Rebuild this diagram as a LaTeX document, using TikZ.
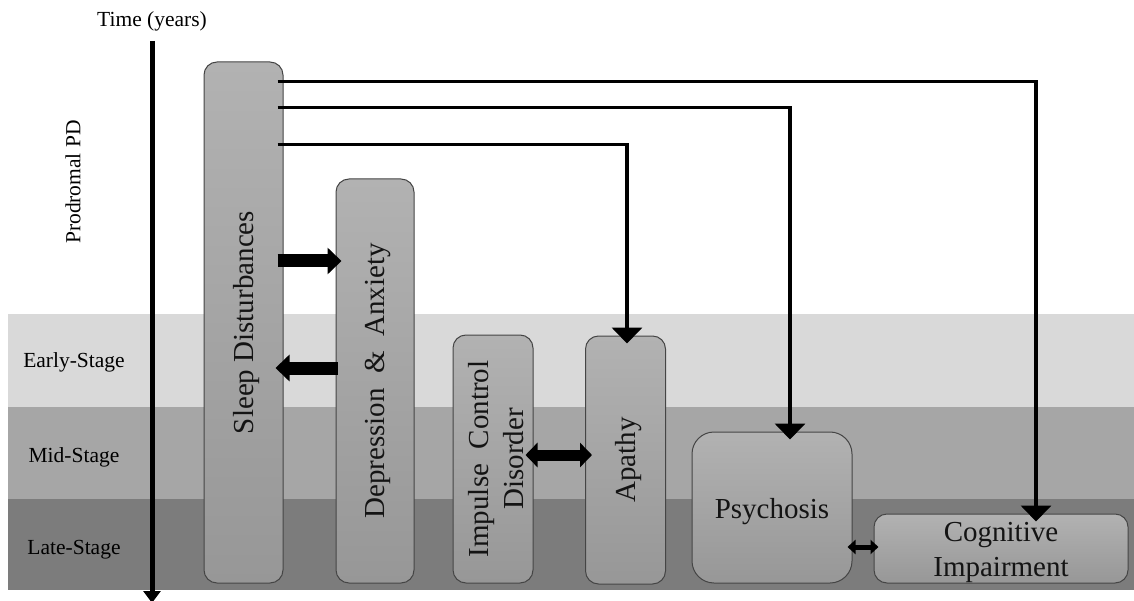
\documentclass[tikz,border=0pt]{standalone}
\usepackage{fontspec}
\setmainfont{Liberation Serif}
\usetikzlibrary{arrows.meta}

\definecolor{earlyband}{HTML}{D9D9D9}
\definecolor{midband}{HTML}{A6A6A6}
\definecolor{lateband}{HTML}{7C7C7C}
\definecolor{boxtop}{HTML}{B2B2B2}
\definecolor{boxbot}{HTML}{979797}
\definecolor{boxline}{HTML}{454545}

\tikzset{
  phase/.style={draw=boxline, line width=1pt, rounded corners=13pt,
    top color=boxtop, bottom color=boxbot, inner sep=0pt},
  sym/.style={font=\fontsize{29}{35}\selectfont, text=black!92, align=center},
  stagelbl/.style={font=\fontsize{21.5}{26}\selectfont},
  link/.style={line width=3.8pt, -{Triangle[width=30pt,length=16pt]}, shorten >=-8pt},
  fat/.style={line width=13pt, -{Triangle[width=26pt,length=14pt]}},
  fatboth/.style={line width=11pt, {Triangle[width=24pt,length=12pt]}-{Triangle[width=24pt,length=12pt]}},
  thinboth/.style={line width=5pt, {Triangle[width=14pt,length=8pt]}-{Triangle[width=14pt,length=8pt]}}
}

\begin{document}
\begin{tikzpicture}[x=1pt,y=-1pt]
  \useasboundingbox (0,0) rectangle (1134,601);
  % stages
  \fill[earlyband] (8,314) rectangle (1134,407);
  \fill[midband] (8,407) rectangle (1134,499);
  \fill[lateband] (8,499) rectangle (1134,590);
  \node[stagelbl] (early) at (74,362) {Early-Stage};
  \node[stagelbl] (mid) at (74,457) {Mid-Stage};
  \node[stagelbl] (late) at (74,550) {Late-Stage};
  \node[stagelbl, rotate=90] (prod) at (73,182) {Prodromal PD};

  % time axis
  \node[stagelbl] (time) at (152,21) {Time (years)};
  \coordinate (t0) at (152,41);
  \coordinate (t1) at (152,603);
  \draw[line width=5pt, -{Triangle[width=17pt,length=12pt]}] (t0) -- (t1);

  % symptoms
  \node[phase, minimum width=79pt, minimum height=521pt] (SD) at (243.5,322.5) {};
  \node[sym, rotate=90] (SDt) at ([xshift=3pt]SD.center) {Sleep Disturbances};
  \node[phase, minimum width=78pt, minimum height=404pt] (DA) at (375,381) {};
  \node[sym, rotate=90] (DAt) at ([xshift=3pt]DA.center) {Depression \ \& \ Anxiety};
  \node[phase, minimum width=80pt, minimum height=248pt] (IC) at (493,459) {};
  \node[sym, rotate=90] (ICt) at ([xshift=3pt]IC.center) {Impulse \ Control\\Disorder};
  \node[phase, minimum width=80pt, minimum height=248pt] (AP) at (625.5,460) {};
  \node[sym, rotate=90] (APt) at ([xshift=3pt]AP.center) {Apathy};
  \node[phase, rounded corners=22pt, minimum width=160pt, minimum height=151pt] (PS) at (772,507.5) {};
  \node[sym] (PSt) at ([yshift=-4pt]PS.center) {Psychosis};
  \node[phase, minimum width=254pt, minimum height=69pt] (CI) at (1001,548.5) {};
  \node[sym] (CIt) at ([yshift=-4pt]CI.center) {Cognitive\\Impairment};

  % links
  \draw[link] ([xshift=-6pt,yshift=-20pt]SD.north east) -| ([xshift=35pt]CI.north);
  \draw[link] ([xshift=-6pt,yshift=-46pt]SD.north east) -| ([xshift=18pt]PS.north);
  \draw[link] ([xshift=-6pt,yshift=-83pt]SD.north east) -| ([xshift=1.5pt]AP.north);
  \draw[fat] ([xshift=-6pt,yshift=61.5pt]SD.east) -- ([xshift=6pt,yshift=120pt]DA.west);
  \draw[fat] ([xshift=2pt,yshift=13pt]DA.west) -- ([xshift=-8pt,yshift=-45.5pt]SD.east);
  \draw[fatboth] ([xshift=-8pt,yshift=4pt]IC.east) -- ([xshift=7pt,yshift=5pt]AP.west);
  \draw[thinboth] ([xshift=-5pt,yshift=-39.5pt]PS.east) -- ([xshift=5pt,yshift=1.5pt]CI.west);
\end{tikzpicture}
\end{document}
